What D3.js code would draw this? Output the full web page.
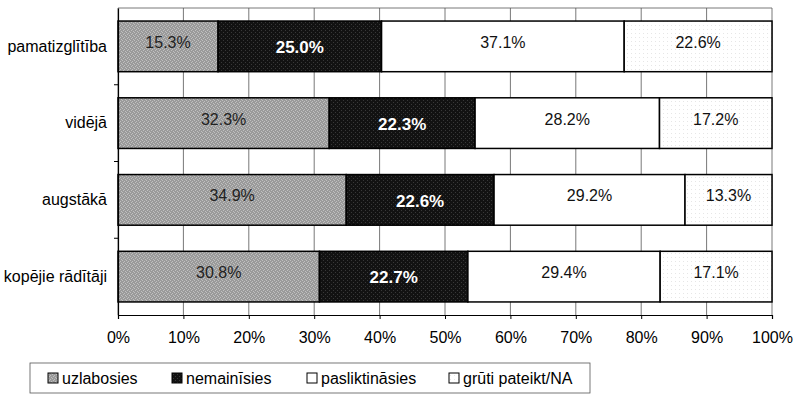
<!DOCTYPE html>
<html>
<head>
<meta charset="utf-8">
<script src="https://cdn.jsdelivr.net/npm/d3@7"></script>
<style>
  body { margin: 0; background: #fff; }
  svg { font-family: "Liberation Sans", Arial, sans-serif; }
</style>
</head>
<body>
<svg width="800" height="397"></svg>
<script>
const categories = ['pamatizglītība', 'vidējā', 'augstākā', 'kopējie rādītāji'];
const seriesNames = ['uzlabosies', 'nemainīsies', 'pasliktināsies', 'grūti pateikt/NA'];
const uzlabosies = [15.3, 32.3, 34.9, 30.8];
const nemainisies = [25.0, 22.3, 22.6, 22.7];
const pasliktinasies = [37.1, 28.2, 29.2, 29.4];
const gruti = [22.6, 17.2, 13.3, 17.1];
const xTicks = [0, 10, 20, 30, 40, 50, 60, 70, 80, 90, 100];

const seriesValues = [uzlabosies, nemainisies, pasliktinasies, gruti];
const fills = ['url(#pGray)', 'url(#pBlack)', '#fff', 'url(#pDots)'];
const labelColor = ['#222', '#fff', '#111', '#111'];
const labelWeight = ['normal', 'bold', 'normal', 'normal'];
const font = '"Liberation Sans", Arial, sans-serif';

const svg = d3.select('svg');
const margin = {top: 8, right: 28, bottom: 82, left: 118};
const width = 800 - margin.left - margin.right;
const height = 397 - margin.top - margin.bottom;

// textures similar to the scanned original
const defs = svg.append('defs');
function pattern(id, bg, fg, cells) {
  const p = defs.append('pattern').attr('id', id)
    .attr('width', 4).attr('height', 4).attr('patternUnits', 'userSpaceOnUse');
  p.append('rect').attr('width', 4).attr('height', 4).attr('fill', bg);
  cells.forEach(c => p.append('rect').attr('x', c[0]).attr('y', c[1])
    .attr('width', 1).attr('height', 1).attr('fill', fg));
}
pattern('pGray', '#9a9a9a', '#c0c0c0', [[0, 0], [2, 1], [1, 2], [3, 3]]);
pattern('pBlack', '#121212', '#383838', [[1, 0], [3, 2]]);
pattern('pDots', '#ffffff', '#e6e6e6', [[1, 1]]);

const g = svg.append('g').attr('transform', `translate(${margin.left},${margin.top})`);

const x = d3.scaleLinear().domain([0, 100]).range([0, width]);
const y = d3.scaleBand().domain(categories).range([0, height]).paddingInner(0.34).paddingOuter(0.17);
const yEdges = d3.scaleBand().domain(categories).range([0, height]);

// vertical gridlines
g.selectAll('.grid').data(xTicks).enter().append('line')
  .attr('x1', d => x(d)).attr('x2', d => x(d))
  .attr('y1', 0).attr('y2', height)
  .attr('stroke', '#555').attr('stroke-width', 0.8);
g.append('line').attr('x1', 0).attr('x2', width).attr('y1', 0).attr('y2', 0)
  .attr('stroke', '#555').attr('stroke-width', 0.8);

// stacked data
const rows = categories.map((c, i) => {
  let acc = 0;
  return seriesValues.map((s, k) => {
    const r = {cat: c, k: k, x0: acc, v: s[i]};
    acc += s[i];
    return r;
  });
}).flat();

g.selectAll('.seg').data(rows).enter().append('rect')
  .attr('x', d => x(d.x0)).attr('width', d => x(d.x0 + d.v) - x(d.x0))
  .attr('y', d => y(d.cat)).attr('height', y.bandwidth())
  .attr('fill', d => fills[d.k])
  .attr('stroke', '#000').attr('stroke-width', 1.5);

g.selectAll('.lbl').data(rows).enter().append('text')
  .attr('x', d => x(d.x0 + d.v / 2))
  .attr('y', d => y(d.cat) + y.bandwidth() / 2)
  .attr('dy', d => d.k === 1 ? '0.4em' : '0.1em')
  .attr('text-anchor', 'middle')
  .attr('font-size', d => d.k === 1 ? 17 : 16)
  .attr('font-weight', d => labelWeight[d.k])
  .attr('fill', d => labelColor[d.k])
  .text(d => d.v.toFixed(1) + '%');

// axes
const xAxis = g.append('g').attr('transform', `translate(0,${height})`)
  .call(d3.axisBottom(x).tickValues(xTicks).tickFormat(d => d + '%').tickSizeOuter(0).tickSize(4).tickPadding(13));
xAxis.select('.domain').attr('stroke', '#000').attr('stroke-width', 1.2);
xAxis.selectAll('.tick line').attr('stroke', '#000');
xAxis.selectAll('text').attr('font-size', 16).attr('fill', '#000').attr('font-family', font);

const yAxis = g.append('g').call(d3.axisLeft(y).tickSize(0).tickPadding(11).tickSizeOuter(0));
yAxis.select('.domain').attr('stroke', '#000').attr('stroke-width', 1.2);
yAxis.selectAll('text').attr('font-size', 16).attr('fill', '#000').attr('font-family', font);
g.selectAll('.ytick').data(categories.slice(1)).enter().append('line')
  .attr('x1', -4).attr('x2', 0)
  .attr('y1', d => yEdges(d)).attr('y2', d => yEdges(d))
  .attr('stroke', '#000');

// legend
const legend = svg.append('g').attr('transform', 'translate(30,363)');
legend.append('rect').attr('width', 560).attr('height', 30)
  .attr('fill', '#fff').attr('stroke', '#555').attr('stroke-width', 0.8);
const legendX = [18, 142, 277, 419];
const item = legend.selectAll('.item').data(seriesNames).enter().append('g')
  .attr('transform', (d, i) => `translate(${legendX[i]},15)`);
item.append('rect').attr('x', 0).attr('y', -5).attr('width', 10).attr('height', 10)
  .attr('fill', (d, i) => fills[i]).attr('stroke', '#000').attr('stroke-width', 1);
item.append('text').attr('x', 14).attr('dy', '0.35em').attr('font-size', 16).attr('fill', '#000')
  .attr('font-family', font)
  .text(d => d);
</script>
</body>
</html>
